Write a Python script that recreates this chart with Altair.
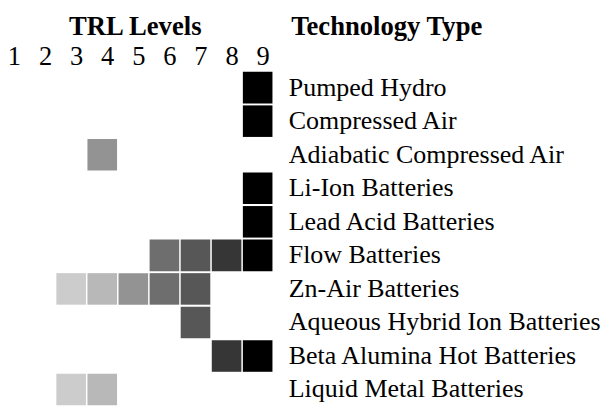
import altair as alt
import pandas as pd

technologies = [
    "Pumped Hydro",
    "Compressed Air",
    "Adiabatic Compressed Air",
    "Li-Ion Batteries",
    "Lead Acid Batteries",
    "Flow Batteries",
    "Zn-Air Batteries",
    "Aqueous Hybrid Ion Batteries",
    "Beta Alumina Hot Batteries",
    "Liquid Metal Batteries",
]
trl_levels = [1, 2, 3, 4, 5, 6, 7, 8, 9]

cell_tech = (
    ["Pumped Hydro", "Compressed Air", "Adiabatic Compressed Air",
     "Li-Ion Batteries", "Lead Acid Batteries"]
    + ["Flow Batteries"] * 4
    + ["Zn-Air Batteries"] * 5
    + ["Aqueous Hybrid Ion Batteries"]
    + ["Beta Alumina Hot Batteries"] * 2
    + ["Liquid Metal Batteries"] * 2
)
cell_trl = [9, 9, 4, 9, 9, 6, 7, 8, 9, 3, 4, 5, 6, 7, 7, 8, 9, 3, 4]
cell_shade = [9, 9, 5, 9, 9, 6, 7, 8, 9, 3, 4, 5, 6, 7, 7, 8, 9, 3, 4]

shade_domain = [3, 4, 5, 6, 7, 8, 9]
shade_colors = ["#cccccc", "#b8b8b8", "#939393", "#6e6e6e", "#575757", "#363636", "#000000"]

df = pd.DataFrame({"tech": cell_tech, "trl": cell_trl, "shade": cell_shade})

FONT = "Liberation Serif"
FS = 26.3

chart = (
    alt.Chart(df)
    .transform_calculate(x0="datum.trl - 0.476", x1="datum.trl + 0.476")
    .mark_rect()
    .encode(
        x=alt.X(
            "x0:Q",
            scale=alt.Scale(domain=[0.968, 9.476], nice=False, zero=False),
            axis=alt.Axis(
                orient="top",
                values=trl_levels,
                format="d",
                ticks=False,
                tickSize=0,
                domain=False,
                grid=False,
                labelFontSize=26.8,
                labelFont=FONT,
                labelColor="black",
                labelPadding=6,
                labelBaseline="alphabetic",
                labelOffset=5,
                labelFlush=False,
                labelOverlap=False,
                title="TRL Levels",
                titleFont=FONT,
                titleFontSize=27,
                titleFontWeight="bold",
                titleColor="black",
                titleX=128.5,
                titleY=-37,
                titleAlign="center",
                titleBaseline="alphabetic",
            ),
        ),
        x2="x1:Q",
        y=alt.Y(
            "tech:N",
            sort=technologies,
            scale=alt.Scale(domain=technologies, paddingInner=0.06, paddingOuter=0.03),
            axis=alt.Axis(
                orient="right",
                ticks=False,
                tickSize=0,
                domain=False,
                grid=False,
                labelAlign="left",
                labelBaseline="middle",
                labelPadding=16,
                labelLimit=500,
                labelFont=FONT,
                labelFontSize=FS,
                labelColor="black",
                title="Technology Type",
                titleFont=FONT,
                titleFontSize=27,
                titleFontWeight="bold",
                titleColor="black",
                titleAngle=0,
                titleAlign="left",
                titleBaseline="alphabetic",
                titleX=18.5,
                titleY=-37,
            ),
        ),
        color=alt.Color(
            "shade:O",
            scale=alt.Scale(domain=shade_domain, range=shade_colors),
            legend=None,
        ),
    )
    .properties(
        width=268,
        height=340,
        autosize=alt.AutoSizeParams(type="none"),
        padding={"left": 0, "top": 61, "right": 337, "bottom": -1},
    )
    .configure_view(strokeWidth=0)
)

chart.save("out.html", embed_options={"renderer": "svg", "actions": False})
